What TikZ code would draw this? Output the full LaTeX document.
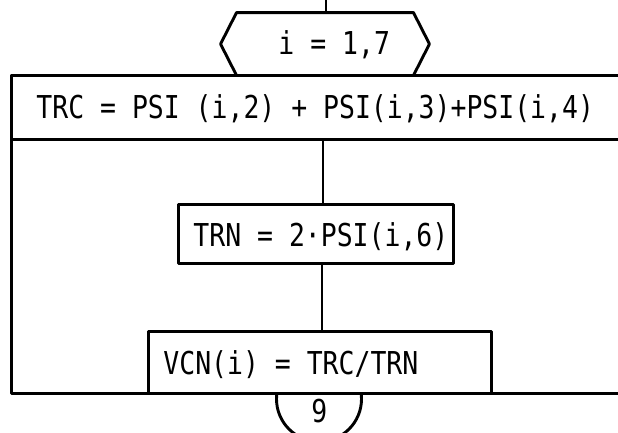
\documentclass[tikz,border=0pt]{standalone}
\usepackage{fontspec}
\newfontfamily\tw[FakeStretch=0.84]{DejaVu Sans Mono}
\begin{document}
\begin{tikzpicture}[x=1pt,y=-1pt, line width=2.9pt, line join=round,
  box/.style={draw, rectangle, inner sep=0pt, anchor=north west},
  txt/.style={inner sep=0pt, anchor=base west, font=\tw\fontsize{31.5}{36}\selectfont}]
\clip (0,0) rectangle (618,432);
\useasboundingbox (0,0) rectangle (618,432);
% loop box and first row
\node[box, minimum width=640, minimum height=318] (loop) at (10,74) {};
\node[box, minimum width=640, minimum height=64] (trcbox) at (10,74) {};
\node[txt] (trc) at (35,118) {TRC = PSI (i,2) + PSI(i,3)+PSI(i,4)};
% loop header hexagon
\node[minimum width=206, minimum height=60, inner sep=0pt] (hex) at (325,44) {};
\draw ([xshift=16]hex.north west) -- ([xshift=-16]hex.north east) -- (hex.east)
  -- ([xshift=-16]hex.south east) -- ([xshift=16]hex.south west) -- (hex.west) -- cycle;
\node[txt] (it) at (277,54) {i = 1,7};
\coordinate (top) at (326,0);
\draw (top) -- (top |- hex.north);
% TRN box
\node[box, minimum width=275, minimum height=59] (trnbox) at (177,203) {};
\node[txt] (trn) at (192,246) {TRN = 2·PSI(i,6)};
% VCN box
\node[box, minimum width=343, minimum height=62] (vcnbox) at (147,330) {};
\node[txt] (vcn) at (162,374) {VCN(i) = TRC/TRN};
% connectors
\draw ([xshift=7]trnbox.north) -- ([xshift=7]trnbox.north |- trcbox.south);
\draw ([xshift=6]trnbox.south) -- ([xshift=6]trnbox.south |- vcnbox.north);
% off-page connector
\begin{scope}
\clip (0,393) rectangle (618,432);
\node[circle, draw, minimum size=85, inner sep=0pt] (nine) at (319,399) {};
\end{scope}
\node[txt] (ninetxt) at (310,422) {9};
\end{tikzpicture}
\end{document}
